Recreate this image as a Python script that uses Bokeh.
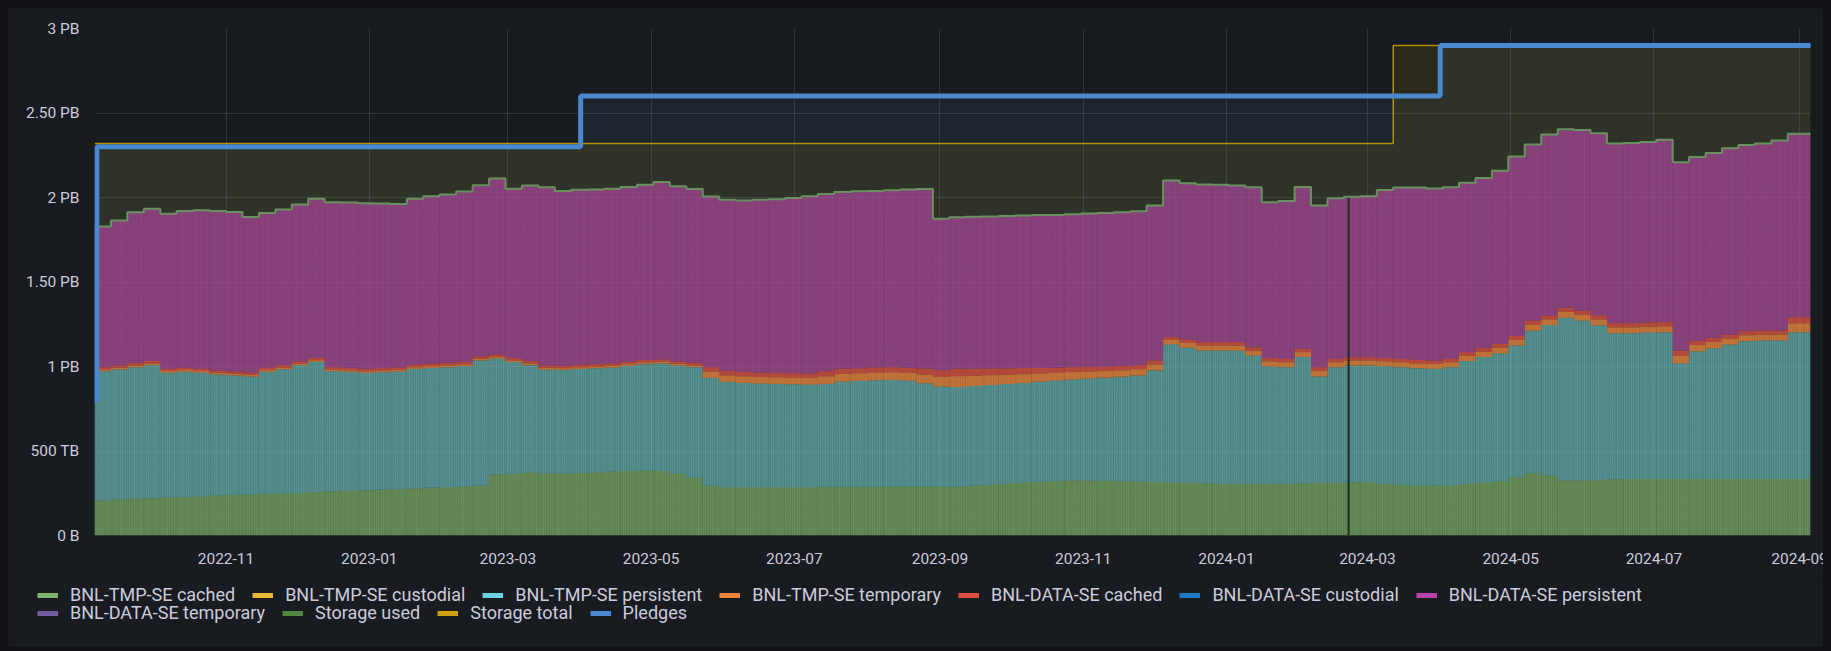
import numpy as np
import pandas as pd
from bokeh.plotting import figure
from bokeh.layouts import column
from bokeh.models import ColumnDataSource, Range1d, FixedTicker, Legend, LegendItem
from bokeh.embed import file_html
from bokeh.resources import INLINE

# ---------------- data (TB, weekly samples starting 2022-09-06) ----------------
week_start = "2022-09-06"

tmp_cached = [207, 213, 217, 221, 225, 227, 231, 237, 241, 243, 247, 250, 252, 256, 260, 264, 266, 270, 274, 278,
              282, 286, 290, 294, 361, 365,
              375, 369, 365, 369, 373, 377, 381, 385, 381, 365, 341, 296, 286, 286, 286, 286, 286, 286, 288, 288,
              288, 288, 290, 290, 290, 290,
              288, 294, 300, 306, 312, 318, 323, 325, 325, 323, 321, 318, 316, 312, 310, 308, 306, 306, 306, 306,
              306, 308, 310, 312, 314, 316,
              304, 300, 298, 296, 298, 304, 310, 321, 345, 369, 355, 325, 325, 327, 333, 335, 335, 335, 335, 335,
              335, 335, 335, 335, 335, 335, 335]

tmp_persistent = [765, 769, 779, 787, 738, 742, 732, 716, 706, 698, 722, 734, 755, 771, 712, 704, 696, 696, 696, 708,
                  710, 710, 712, 742, 686, 661,
                  633, 613, 615, 617, 617, 617, 623, 629, 637, 641, 655, 637, 623, 617, 613, 611, 609, 607, 609, 623,
                  627, 631, 631, 627, 611, 592,
                  590, 590, 590, 590, 590, 592, 594, 598, 604, 611, 619, 629, 661, 819, 801, 787, 789, 787, 759, 694,
                  690, 748, 631, 684, 692, 690,
                  698, 696, 692, 690, 698, 728, 746, 757, 779, 844, 890, 963, 947, 917, 864, 862, 866, 868, 684, 755,
                  773, 795, 815, 819, 819, 868, 868]

tmp_temporary = [10, 10, 10, 10, 10, 10, 10, 10, 10, 10, 10, 10, 10, 10, 10, 10, 10, 10, 10, 10,
                 10, 10, 10, 10, 10, 10, 10, 10, 10, 10, 10, 10, 10, 10, 10, 10, 10,
                 37, 39, 39, 39, 39, 39, 39, 45, 45, 45, 45, 45, 45, 52, 57,
                 65, 62, 59, 56, 53, 49, 45, 44, 41, 39, 38, 37, 35, 26, 28, 29, 29, 30, 29, 30,
                 29, 29, 33, 29, 29, 29, 29, 29, 29, 29, 29, 32, 32, 33, 34, 35, 34,
                 35, 35, 35, 35, 35, 35, 35, 45, 38, 37, 35, 35, 35, 35, 53, 53]

data_cached = [14, 14, 14, 14, 14, 14, 14, 14, 14, 14, 14, 14, 14, 14, 14, 14, 14, 14, 14, 14,
               14, 14, 14, 14, 14, 14, 14, 14, 14, 14, 14, 14, 14, 14, 14, 14, 14,
               26, 26, 26, 26, 26, 26, 26, 30, 30, 30, 30, 30, 30, 35, 38,
               43, 41, 40, 37, 36, 32, 30, 29, 28, 26, 25, 24, 24, 17, 19, 20, 20, 21, 20, 21,
               20, 20, 22, 20, 20, 20, 20, 20, 20, 20, 20, 21, 21, 22, 23, 24, 23,
               24, 24, 24, 24, 24, 24, 24, 30, 25, 24, 24, 24, 24, 24, 36, 36]

data_persistent = [832, 858, 893, 901, 917, 927, 937, 943, 943, 919, 915, 921, 927, 941, 976, 978, 980, 974, 968, 982,
                   992, 998, 1010, 1012, 1041, 1002,
                   1039, 1055, 1034, 1036, 1034, 1034, 1034, 1037, 1049, 1037, 1030, 1010, 1012, 1014, 1022, 1028,
                   1037, 1049, 1049, 1047, 1047, 1045, 1047, 1055, 1063, 897,
                   897, 899, 899, 901, 903, 905, 905, 905, 907, 909, 909, 911, 917, 927, 927, 933, 931, 927, 947, 921,
                   935, 957, 957, 951, 949, 953,
                   994, 1014, 1020, 1018, 1016, 1002, 1006, 1026, 1061, 1041, 1071, 1057, 1069, 1077, 1063, 1067,
                   1069, 1079, 1114, 1087, 1095, 1103, 1101, 1107, 1124, 1085, 1085]

# storage total and pledges (TB), step changes
total_dates = ["2022-09-06", "2024-03-12", "2024-09-06"]
total_values = [2320, 2900, 2900]
pledge_dates = ["2022-09-06", "2022-09-07", "2023-04-01", "2024-04-01", "2024-09-06"]
pledge_values = [800, 2300, 2600, 2900, 2900]

# day with missing bars
gap_days = ["2024-02-22"]

y_ticks = [0, 500, 1000, 1500, 2000, 2500, 3000]
y_labels = ["0 B", "500 TB", "1 PB", "1.50 PB", "2 PB", "2.50 PB", "3 PB"]
x_labels = ["2022-11", "2023-01", "2023-03", "2023-05", "2023-07", "2023-09", "2023-11",
            "2024-01", "2024-03", "2024-05", "2024-07", "2024-09"]

legend_row1 = ["BNL-TMP-SE cached", "BNL-TMP-SE custodial", "BNL-TMP-SE persistent", "BNL-TMP-SE temporary",
               "BNL-DATA-SE cached", "BNL-DATA-SE custodial", "BNL-DATA-SE persistent"]
legend_row2 = ["BNL-DATA-SE temporary", "Storage used", "Storage total", "Pledges"]
colors_row1 = ["#7EB26D", "#EAB839", "#6ED0E0", "#EF843C", "#E24D42", "#1F78C1", "#BA43A9"]
colors_row2 = ["#705DA0", "#508642", "#CCA300", "#4A88D0"]

# ---------------- build ----------------
FONT = "Roboto"
TXT = "#ccccdc"
BG = "#181b1f"
DAY = 86400000.0

dates = pd.date_range(week_start, periods=len(tmp_cached), freq="7D")
centers = dates + pd.Timedelta(hours=84)
stackers = ["tmp_cached", "tmp_persistent", "tmp_temporary", "data_cached", "data_persistent"]
stack_colors = ["#7EB26D", "#6ED0E0", "#EF843C", "#E24D42", "#BA43A9"]
src = ColumnDataSource(dict(x=centers, tmp_cached=tmp_cached, tmp_persistent=tmp_persistent,
                            tmp_temporary=tmp_temporary, data_cached=data_cached,
                            data_persistent=data_persistent))
used = np.array(tmp_cached) + np.array(tmp_persistent) + np.array(tmp_temporary) + \
    np.array(data_cached) + np.array(data_persistent)

p = figure(width=1823, height=572, x_axis_type="datetime", output_backend="svg", toolbar_location=None,
           x_range=Range1d(pd.Timestamp("2022-09-06"), pd.Timestamp("2024-09-05 16:00")),
           y_range=Range1d(0, 3000),
           min_border_left=86, min_border_right=21, min_border_top=20, min_border_bottom=45,
           background_fill_color=BG, border_fill_color=BG, outline_line_color=None)
p.frame_align = False

# fills of pledges / storage total / storage used
pd_dates = pd.to_datetime(pledge_dates)
td_dates = pd.to_datetime(total_dates)
used_x = list(dates) + [dates[-1] + pd.Timedelta(days=7)]
used_y = list(used) + [used[-1]]
p.varea_step(x=pd_dates, y1=0, y2=pledge_values, step_mode="after", fill_color="#447EBC", fill_alpha=0.1)
p.varea_step(x=td_dates, y1=0, y2=total_values, step_mode="after", fill_color="#CCA300", fill_alpha=0.1)
p.varea_step(x=used_x, y1=0, y2=used_y, step_mode="after", fill_color="#508642", fill_alpha=0.15)

# stacked bars
p.vbar_stack(stackers, x="x", width=7 * DAY, source=src, color=stack_colors,
             fill_alpha=[0.58, 0.48, 0.7, 0.7, 0.58],
             line_color=None, hatch_pattern="vertical_line", hatch_color=stack_colors,
             hatch_alpha=[0.45, 0.35, 0.4, 0.4, 0.45], hatch_scale=2.35, hatch_weight=0.8)

# missing-day gap
for g in gap_days:
    gt = pd.Timestamp(g)
    idx = int((gt - dates[0]).days // 7)
    p.segment(x0=[gt], y0=[0], x1=[gt], y1=[used[idx]], line_color="#1b2a20", line_width=2)

# storage used line
p.step(x=used_x, y=used_y, mode="after", line_color="#6a9160", line_width=2)

# storage total and pledges lines
p.step(x=td_dates, y=total_values, mode="after", line_color="#CCA300", line_width=1.5, line_alpha=0.85)
p.step(x=pd_dates, y=pledge_values, mode="after", line_color="#4A88D0", line_width=5)

# axes
x_ticks = [pd.Timestamp(l + "-01").value / 1e6 for l in x_labels]
p.xaxis.ticker = FixedTicker(ticks=x_ticks)
p.xaxis.major_label_overrides = {t: l for t, l in zip(x_ticks, x_labels)}
p.yaxis.ticker = FixedTicker(ticks=y_ticks)
p.yaxis.major_label_overrides = {t: l for t, l in zip(y_ticks, y_labels)}
p.xgrid.ticker = FixedTicker(ticks=x_ticks)
p.ygrid.ticker = FixedTicker(ticks=y_ticks)
for ax in (p.xaxis, p.yaxis):
    ax.axis_line_color = None
    ax.major_tick_line_color = None
    ax.minor_tick_line_color = None
    ax.major_label_text_color = TXT
    ax.major_label_text_font = FONT
    ax.major_label_text_font_size = "15.5px"
p.yaxis.major_label_standoff = 9
p.xaxis.major_label_standoff = 11
p.grid.grid_line_color = TXT
p.grid.grid_line_alpha = 0.15

# legend strip (two rows) in its own figure below the chart
lg_fig = figure(width=1823, height=67, output_backend="svg", toolbar_location=None,
                x_range=Range1d(0, 1823), y_range=Range1d(0, 67),
                min_border_left=0, min_border_right=0, min_border_top=0, min_border_bottom=0,
                background_fill_color=BG, border_fill_color=BG, outline_line_color=None)
lg_fig.frame_align = False
lg_fig.xaxis.visible = False
lg_fig.yaxis.visible = False
lg_fig.grid.visible = False


def make_legend(names, cols, loc):
    items = []
    for n, c in zip(names, cols):
        # legend handle only (placed outside the strip's visible range)
        r = lg_fig.line(x=[-50, -40], y=[-50, -50], line_color=c, line_width=5)
        items.append(LegendItem(label=n, renderers=[r]))
    lg = Legend(items=items, orientation="horizontal", location=loc, glyph_width=21, glyph_height=20,
                label_height=20, label_standoff=12, spacing=17, padding=0, margin=0,
                border_line_color=None, background_fill_alpha=0, label_text_color=TXT,
                label_text_font=FONT, label_text_font_size="18px")
    lg_fig.add_layout(lg)


make_legend(legend_row1, colors_row1, (29, 42))
make_legend(legend_row2, colors_row2, (29, 24))

layout = column(p, lg_fig, spacing=0, styles={"background-color": BG})

html = file_html(layout, INLINE)
html = html.replace("</head>",
                    "<style>html,body{background:#111217 !important;overflow:hidden !important;}"
                    "body{margin:8px !important;}</style></head>", 1)
open("out.html", "w").write(html)
